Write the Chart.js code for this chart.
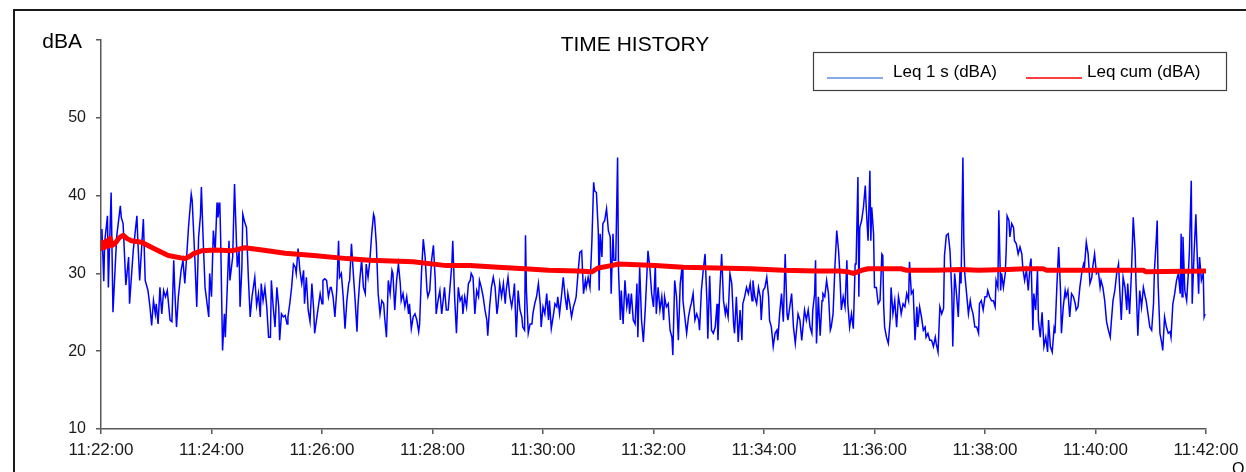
<!DOCTYPE html>
<html><head><meta charset="utf-8">
<script src="https://cdn.jsdelivr.net/npm/chart.js@4.4.1/dist/chart.umd.min.js"></script>
<style>html,body{margin:0;padding:0;background:#fff;overflow:hidden}#wrap{width:1246px;height:472px;position:relative}</style>
</head><body><div id="wrap"><canvas id="c" width="1246" height="472"></canvas></div>
<script>
// ---- data (time in seconds after 11:22:00, level in dBA) ----
const chartTitle = 'TIME HISTORY';
const yUnit = 'dBA';
const seriesNames = ['Leq 1 s (dBA)', 'Leq cum (dBA)'];
const startClock = [11, 22, 0];
const yTicks = [10, 20, 30, 40, 50, 60];

const leq1s_a = [[0,33],[1,35.7],[3,29],[4,34],[7,37.4],[8,28.2],[11,40.4],[13,25],[17,34.7],[21,38.7],[22,37.2],[24,36.4],[27,28.5],[30,32.1],[31,26.1],[35,32.9],[39,37.4],[40,34.2],[42,29.1],[46,37],[48,29.1],[51,27.8],[53,25.9],[55,23.3],[57,26.5],[59,24.8],[60,26.1],[62,23.5],[64,28.2],[66,24.8],[68,27.8],[70,27],[72,27.8],[75,24],[77,23.8],[79,31.7],[80,28.2],[82,23.1],[84,27],[87,30.4],[89,31.7],[91,28.7],[93,32.1],[95,35.9],[98,40.2],[99,39.4],[102,31.7],[104,25.7],[106,34.7],[108,37.4],[109,41.1],[111,34.2],[113,28.2],[117,24.4],[118,30],[120,27],[122,35.5],[124,32.9],[126,39.1],[127,37.2],[129,39.1],[130,34.2],[132,20.1],[134,24.8],[135,21.8],[137,27.8],[139,34.2],[140,29.1],[143,32.1],[145,41.5],[146,37.9],[148,30.8],[150,32.9],[151,25.7],[153,30.8],[154,37.6],[156,36.6],[158,35.9],[160,29.5],[162,24.4],[164,27],[167,29.5],[169,25.9],[171,27.4],[173,24.4],[174,28.7],[176,26.5],[178,28.2],[180,25.7],[182,21.8],[184,21.8],[185,29.1],[187,25.7],[189,23.1],[191,28.2],[193,25.7],[194,21.4],[196,24.8],[198,24.4],[200,24.6]];
const leq1s_b = [[202,23.5],[203,24.4],[205,26.1],[207,28.2],[209,31.2],[211,30.8],[212,30],[214,33.2],[216,30.4],[218,28.7],[220,30.4],[221,26.1],[223,29.5],[225,25.3],[227,23.8],[229,28.7],[231,25.3],[232,22.3],[234,24],[236,25.7],[238,27.4],[240,26.1],[241,29.1],[243,29.3],[245,29.1],[247,27],[249,28.2],[250,28.2],[252,27],[254,24.4],[256,27.8],[258,34.2],[259,29.5],[261,30],[263,27],[265,22.9],[267,26.5],[269,28.7],[270,29.1],[272,33.8],[274,30],[276,26.5],[278,22.5],[279,25.7],[281,29.1],[283,31.7],[285,28.2],[287,27.4],[288,31.2],[290,29.5],[292,31.7],[294,35.1],[296,37.6],[297,37.2],[299,33.8],[301,27.4],[303,24.8],[305,26.5],[307,26.1],[308,24.4],[310,21.8],[312,29.1],[314,27.4],[316,30.4],[317,30],[319,25.3],[321,29.1],[323,31.2],[325,28.7],[326,26.5],[328,27.4],[330,25.7],[332,27],[334,24.8],[335,26.1],[337,22.9],[339,24.4],[341,24.8],[343,24],[345,22.5],[346,23.5],[348,30],[350,34.4],[352,32.1],[354,27.8],[355,27],[357,27.8],[359,31.7],[361,33.6],[363,29.1],[364,24.8],[366,26.5],[368,27.8],[370,24.8],[372,27],[373,28.2],[375,25.3],[377,25.3],[379,28.2],[381,31.2],[382,34.2],[383,30.8],[384,27],[386,22.3],[388,28.2],[390,26.5],[392,27],[393,24.8],[395,27],[397,25.7],[399,28.7],[401,29.1]];
const leq1s_c = [[402,30],[404,29.5],[406,24.8],[408,27.8],[410,27],[411,29.1],[413,28.2],[415,27],[417,25.3],[419,24],[420,22],[422,25.7],[424,28.2],[426,29.5],[428,28.2],[430,24.8],[431,25.7],[433,28.7],[435,27],[437,28.7],[439,26.1],[440,27.8],[442,29.5],[444,27],[446,25.7],[448,27.4],[449,28.7],[451,21.8],[453,27.8],[455,25.3],[457,24.4],[458,23.1],[460,22.7],[461,34.9],[462,27.8],[464,22.3],[466,23.5],[468,23.5],[469,24.8],[471,26.1],[473,27],[475,28.7],[477,26.1],[478,23.1],[480,25.7],[482,24.8],[484,27.4],[486,24],[487,26.5],[489,22.9],[491,24.4],[493,26.1],[495,25.7],[496,27],[498,24.8],[500,27],[502,29.5],[504,27],[506,25.3],[507,27.4],[509,26.1],[511,24.4],[513,25.7],[515,26.5],[516,27],[518,30],[520,32.7],[522,32.9],[524,27.4],[526,29.1],[527,28.2],[529,29.5],[531,28.2],[533,33.8],[535,41.7],[536,40.6],[538,40.4],[540,35.5],[541,27.8],[542,35.1],[544,32.1],[545,36.4],[547,36.8],[549,38.3],[551,35.5],[553,34.7],[554,27.4],[556,35.1],[557,31.7],[559,31.7],[561,44.9],[562,30.4],[564,24],[565,27.8],[567,23.5],[569,29.1],[571,25.7],[573,27.4],[574,24.8],[576,27.4],[578,24],[580,23.5],[582,28.7],[583,21.8],[585,30.8],[587,24],[589,21.2],[591,25.3],[592,27.8],[594,32.9],[596,30.8],[598,27.4],[600,25.7],[602,31.2]];
const leq1s_d = [[603,24.8],[605,28.2],[607,25.3],[609,27],[611,24],[612,27],[614,25.7],[616,26.1],[618,22.7],[620,21.8],[621,19.5],[623,29.1],[625,27],[627,21.4],[629,28.7],[631,30.8],[632,26.5],[634,24.4],[636,22.3],[638,24.4],[640,25.7],[641,26.1],[643,27.4],[645,24],[647,24.8],[649,24],[650,22.7],[652,27.8],[654,30.4],[656,32.5],[658,26.5],[659,21.6],[661,29.7],[663,22.7],[665,22.3],[667,23.1],[669,26.1],[670,21.4],[672,27.8],[674,32.5],[676,26.5],[678,24.8],[679,25.7],[681,24.4],[683,30],[685,28.7],[687,23.5],[688,22.3],[690,27],[692,21.2],[694,25.3],[696,21.4],[697,26.1],[699,27],[701,28.2],[703,27.4],[705,28.7],[707,26.5],[708,29.1],[710,27],[712,26.1],[714,28.2],[716,27],[717,24],[719,27.8],[721,28.2],[723,29.5],[725,27],[726,24],[728,23.1],[730,20.6],[732,22.3],[734,22.7],[735,21.4],[737,24.8],[739,27.4],[741,23.8],[743,32.5],[745,24.8],[746,24],[748,25.7],[750,27.4],[752,23.1],[754,21],[755,22.3],[757,24.8],[759,24],[761,21.4],[763,24],[764,25.3],[766,24],[768,25.3],[770,23.1],[772,22.3],[773,25.3],[775,27.4],[776,31.7],[777,21],[779,27],[781,22],[783,26.5],[784,27.4],[786,27],[788,29.1],[790,27.4],[792,22.7],[793,23.1],[795,24.8],[797,30.8],[799,35.5],[801,32.9],[802,30.8]];
const leq1s_e = [[804,25.3],[806,27],[808,25.7],[810,31.7],[811,26.1],[813,23.1],[815,24.8],[817,22.9],[819,31.2],[820,31.2],[822,42.4],[823,27],[824,35.9],[826,36.8],[828,38.5],[830,41.3],[831,38.5],[833,34.2],[835,43.2],[836,34.2],[837,38.5],[839,35.1],[840,28.2],[842,28.2],[844,26.1],[846,26.5],[848,32.5],[849,32.3],[850,25.7],[851,23.1],[853,21.8],[855,21],[857,24],[858,28.2],[860,24.8],[862,26.5],[864,23.1],[866,27],[868,25.7],[869,24.8],[871,26.1],[873,25.7],[875,27.4],[877,26.5],[878,31.5],[880,27.4],[882,27.8],[884,21.4],[886,25.7],[887,23.1],[889,25.7],[891,24.4],[893,22.7],[895,23.1],[896,21.8],[898,22.3],[900,21.4],[902,21.4],[904,20.6],[906,21.8],[907,21],[909,19.9],[911,25.7],[913,24.8],[915,25.5],[916,32.3],[918,34.9],[920,35.1],[922,32.9],[924,27.4],[925,20.6],[927,30],[929,27.4],[931,24.4],[933,30.8],[934,28.7],[936,44.9],[937,34.2],[938,30],[940,27.4],[942,24.8],[944,26.5],[945,25.7],[947,24.8],[949,23.1],[951,23.1],[953,22.3],[954,26.1],[956,26.5],[958,25.3],[960,27],[962,27],[963,27.8],[965,27],[967,26.5],[969,26.5],[971,25.7],[972,29.1],[974,28.2],[975,38.1],[977,27.8],[978,30],[980,28.2],[982,30],[983,32.9],[984,37.4],[986,36.8],[987,34.7],[989,36.4],[991,35.9],[992,34.2],[994,33.8],[996,32.5],[998,33.4],[1000,32.5],[1001,30.8],[1003,29.1]];
const leq1s_f = [[1005,30.4],[1007,27.8],[1009,31.2],[1010,31.9],[1012,22.7],[1013,27.4],[1015,25.3],[1017,30.4],[1018,24],[1020,21.8],[1022,25],[1024,20.6],[1026,21.8],[1028,19.9],[1029,24],[1031,20.6],[1033,19.9],[1035,22.9],[1036,22.3],[1038,28.2],[1040,33.4],[1042,27.8],[1043,22.3],[1045,25.7],[1047,27.8],[1048,27],[1050,27.8],[1052,24.4],[1054,27.4],[1056,27],[1058,26.1],[1059,25.3],[1061,25.7],[1063,28.2],[1065,30],[1067,31.2],[1068,30.8],[1070,34],[1072,32.5],[1074,28.7],[1076,29.5],[1077,30.8],[1079,32.5],[1081,30],[1083,30.4],[1085,28.2],[1086,29.1],[1088,28.2],[1090,26.5],[1092,23.8],[1094,22.7],[1096,21.8],[1097,23.5],[1099,26.5],[1101,27.8],[1103,30],[1105,31.2],[1106,28.7],[1108,24],[1110,29.5],[1112,28.2],[1114,25.3],[1115,28.7],[1117,24.8],[1119,30],[1121,37.2],[1123,32.9],[1124,28.7],[1126,22],[1128,27.8],[1130,25.7],[1132,28.2],[1134,27],[1135,26.5],[1137,24.8],[1139,23.1],[1141,22.7],[1143,26.1],[1144,30.4],[1146,34.4],[1147,36.8],[1148,28.7],[1150,22.3],[1152,21],[1153,20.1],[1155,24.4],[1157,23.1],[1159,22.3],[1161,22.5],[1162,21.8],[1164,26.1],[1166,27.4],[1168,29.1],[1170,30],[1172,27.4],[1173,35.1],[1174,27],[1175,34.7],[1177,27.8],[1179,26.5],[1181,30.4],[1182,32.9],[1184,41.9],[1185,26.1],[1187,32.5],[1189,37.6],[1190,33.8],[1192,27.4],[1193,32.1],[1195,29.1],[1197,30],[1198,24.4],[1199,24.8]];
const leqCum = [[0,33.2],[2,34],[4,33.3],[6,34.2],[8,33.5],[10,34.5],[12,33.6],[15,33.8],[20,34.6],[24,34.9],[28,34.5],[33,34.2],[44,34],[59,33.1],[73,32.3],[91,31.9],[95,32.1],[100,32.5],[109,32.9],[124,33],[142,32.9],[156,33.3],[175,33],[200,32.6],[231,32.3],[267,31.9],[292,31.7],[339,31.5],[375,31.0],[401,31.0],[431,30.8],[460,30.6],[486,30.4],[518,30.3],[533,30.2],[540,30.7],[554,31.0],[562,31.2],[602,31.0],[632,30.8],[669,30.7],[705,30.6],[741,30.4],[777,30.3],[802,30.3],[811,30.2],[817,30.0],[826,30.4],[833,30.6],[869,30.6],[875,30.4],[906,30.4],[934,30.5],[953,30.4],[985,30.5],[1003,30.6],[1023,30.6],[1027,30.4],[1132,30.4],[1135,30.2],[1199,30.3]];

// ---- build ----
const FONT = "'Liberation Sans', Arial, Helvetica, sans-serif";
const toPts = arr => arr.map(p => ({x: p[0], y: p[1]}));
const leq1sPts = toPts([].concat(leq1s_a, leq1s_b, leq1s_c, leq1s_d, leq1s_e, leq1s_f));
const leqCumPts = toPts(leqCum);
const pad2 = n => String(n).padStart(2, '0');
function clock(sec) {
  let s = startClock[0]*3600 + startClock[1]*60 + startClock[2] + Math.round(sec);
  return pad2(Math.floor(s/3600)) + ':' + pad2(Math.floor(s%3600/60)) + ':' + pad2(s%60);
}

const decor = {
  id: 'decor',
  beforeDraw(chart) {
    const ctx = chart.ctx;
    ctx.save();
    ctx.fillStyle = '#fff';
    ctx.fillRect(0, 0, chart.width, chart.height);
    ctx.fillStyle = '#1a1a1a';
    ctx.fillRect(13, 9, chart.width - 13, 2);
    ctx.fillRect(13, 9, 2, chart.height - 9);
    ctx.restore();
  },
  afterDraw(chart) {
    const ctx = chart.ctx;
    const ys = chart.scales.y;
    ctx.save();
    // y unit at the top of the axis
    ctx.fillStyle = '#000';
    ctx.font = '21px ' + FONT;
    ctx.textAlign = 'right';
    ctx.textBaseline = 'middle';
    ctx.fillText(yUnit, ys.right - 19, ys.getPixelForValue(yTicks[yTicks.length-1]) + 2);
    // title
    ctx.font = '21px ' + FONT;
    ctx.textAlign = 'center';
    ctx.fillText(chartTitle, 635, 45);
    // legend box
    ctx.strokeStyle = '#404040';
    ctx.lineWidth = 1.2;
    ctx.strokeRect(813.5, 52.5, 413, 38);
    const items = [
      {x0: 827, x1: 883, tx: 893, color: '#5b8fe0', ds: 0},
      {x0: 1026, x1: 1082, tx: 1087, color: '#ff0000', ds: 1}
    ];
    ctx.font = '17px ' + FONT;
    ctx.textAlign = 'left';
    ctx.textBaseline = 'alphabetic';
    items.forEach(it => {
      ctx.strokeStyle = it.color;
      ctx.lineWidth = 1.5;
      ctx.beginPath(); ctx.moveTo(it.x0, 78); ctx.lineTo(it.x1, 78); ctx.stroke();
      ctx.fillStyle = '#000';
      ctx.fillText(chart.data.datasets[it.ds].label, it.tx, 76.5);
    });
    // cut-off character at bottom right
    ctx.font = '16px ' + FONT;
    ctx.fillStyle = '#000';
    ctx.fillText('O', 1232, 474);
    ctx.restore();
  }
};

new Chart(document.getElementById('c'), {
  type: 'line',
  data: {
    datasets: [
      {label: seriesNames[0], data: leq1sPts, borderColor: '#0000ff', borderWidth: 1.5,
       pointRadius: 0, tension: 0, order: 2},
      {label: seriesNames[1], data: leqCumPts, borderColor: '#ff0000', borderWidth: 5,
       pointRadius: 0, tension: 0, order: 1, borderJoinStyle: 'round', borderCapStyle: 'round'}
    ]
  },
  options: {
    responsive: false,
    animation: false,
    devicePixelRatio: 1,
    layout: {padding: {left: 0, right: 40, top: 40, bottom: 0}},
    plugins: {legend: {display: false}, tooltip: {enabled: false}, title: {display: false}},
    scales: {
      x: {
        type: 'linear', min: 0, max: 1200,
        afterFit(s) { s.height = 43; },
        border: {color: '#595959', width: 1.5},
        grid: {drawOnChartArea: false, drawTicks: true, tickLength: 5, color: '#595959', lineWidth: 1.5},
        ticks: {stepSize: 120, autoSkip: false, maxRotation: 0, padding: 6, color: '#1a1a1a',
                font: {family: FONT, size: 17}, callback: v => clock(v)}
      },
      y: {
        min: yTicks[0], max: yTicks[yTicks.length-1],
        afterFit(s) { s.width = 101; },
        afterBuildTicks(s) { s.ticks = yTicks.map(v => ({value: v})); },
        border: {color: '#595959', width: 1.5},
        grid: {drawOnChartArea: false, drawTicks: true, tickLength: 5, color: '#595959', lineWidth: 1.5},
        ticks: {padding: 10, color: '#1a1a1a', font: {family: FONT, size: 16},
                callback: v => v === yTicks[yTicks.length-1] ? '' : String(v)}
      }
    }
  },
  plugins: [decor]
});
</script></body></html>
